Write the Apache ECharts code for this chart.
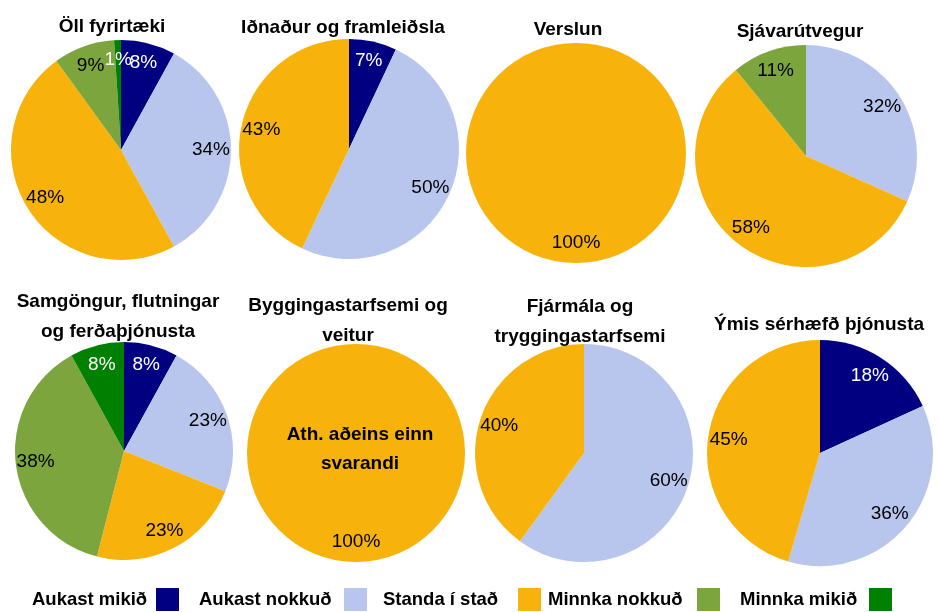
<!DOCTYPE html>
<html>
<head>
<meta charset="utf-8">
<script src="https://cdn.jsdelivr.net/npm/echarts@6/dist/echarts.min.js"></script>
<style>
  html, body { margin: 0; padding: 0; background: #ffffff; }
  #chart { width: 938px; height: 612px; }
</style>
</head>
<body>
<div id="chart"></div>
<script>
// Answer categories (legend order)
const categories = ['Aukast mikið', 'Aukast nokkuð', 'Standa í stað', 'Minnka nokkuð', 'Minnka mikið'];

// Sector titles
const sectorTitles = [
  'Öll fyrirtæki',
  'Iðnaður og framleiðsla',
  'Verslun',
  'Sjávarútvegur',
  'Samgöngur, flutningar\nog ferðaþjónusta',
  'Byggingastarfsemi og\nveitur',
  'Fjármála og\ntryggingastarfsemi',
  'Ýmis sérhæfð þjónusta'
];

// Share of answers (%) per sector, in category order
const allFirms     = [8, 34, 48, 9, 1];
const industry     = [7, 50, 43, 0, 0];
const retail       = [0, 0, 100, 0, 0];
const fisheries    = [0, 32, 58, 11, 0];
const transport    = [8, 23, 23, 38, 8];
const construction = [0, 0, 100, 0, 0];
const finance      = [0, 60, 40, 0, 0];
const services     = [18, 36, 45, 0, 0];

const sectorValues = [allFirms, industry, retail, fisheries, transport, construction, finance, services];

const noteText = 'Ath. aðeins einn\nsvarandi';

// Styling
const colors = ['#000080', '#b8c5ed', '#f7b30b', '#7ca53d', '#008000'];
const labelColors = ['#ffffff', '#000000', '#000000', '#000000', '#ffffff'];
const titleFont = 'Liberation Sans, Arial, sans-serif';

// Layout of each pie: centre, radius and title anchor
const layout = [
  { cx: 121, cy: 150, r: 110, tx: 112, ty: 12 },
  { cx: 349, cy: 149, r: 110, tx: 343, ty: 13 },
  { cx: 576, cy: 153, r: 110, tx: 568, ty: 15 },
  { cx: 806, cy: 156, r: 111, tx: 800, ty: 17 },
  { cx: 124, cy: 451, r: 109, tx: 118, ty: 287 },
  { cx: 356, cy: 453, r: 109, tx: 348, ty: 291 },
  { cx: 584, cy: 453, r: 109, tx: 580, ty: 292 },
  { cx: 820, cy: 453, r: 113, tx: 819, ty: 310 }
];

// Legend entries: where each text starts and where its colour key sits
const legendTextLeft = [32, 199, 383, 548, 740];
const legendKeyLeft  = [156, 344, 518, 697, 869];
const keySize = 23;

function sliceData(values, withLabel) {
  return categories
    .map((name, k) => ({ name, value: values[k], k }))
    .filter(d => d.value > 0)
    .map(d => {
      const item = { name: d.name, value: d.value };
      if (withLabel) {
        item.itemStyle = { color: 'rgba(0,0,0,0)' };
        item.label = { color: labelColors[d.k] };
      } else {
        item.itemStyle = { color: colors[d.k] };
      }
      return item;
    });
}

const series = [];
sectorValues.forEach((values, i) => {
  const L = layout[i];
  // filled pie
  series.push({
    type: 'pie',
    center: [L.cx, L.cy],
    radius: [0, L.r],
    startAngle: 90,
    clockwise: true,
    silent: true,
    label: { show: false },
    labelLine: { show: false },
    itemStyle: { borderWidth: 0 },
    emphasis: { disabled: true },
    data: sliceData(values, false)
  });
  // transparent ring carrying the percentage labels near the rim
  series.push({
    type: 'pie',
    center: [L.cx, L.cy],
    radius: [L.r * 0.58, L.r],
    startAngle: 90,
    clockwise: true,
    silent: true,
    legendHoverLink: false,
    minShowLabelAngle: 0,
    avoidLabelOverlap: false,
    labelLayout: { hideOverlap: false },
    label: {
      show: true,
      position: 'inside',
      formatter: '{c}%',
      fontFamily: titleFont,
      fontSize: 19,
      fontWeight: 'normal',
      overflow: 'none'
    },
    labelLine: { show: false },
    itemStyle: { borderWidth: 0 },
    emphasis: { disabled: true },
    data: sliceData(values, true)
  });
});

const titles = sectorTitles.map((text, i) => ({
  text,
  left: layout[i].tx,
  top: layout[i].ty,
  textAlign: 'center',
  padding: 0,
  textStyle: {
    fontFamily: titleFont,
    fontSize: 19,
    fontWeight: 'bold',
    color: '#000000',
    lineHeight: 30
  }
}));
titles.push({
  text: noteText,
  left: 360,
  top: 420,
  textAlign: 'center',
  padding: 0,
  textStyle: {
    fontFamily: titleFont,
    fontSize: 19,
    fontWeight: 'bold',
    color: '#000000',
    lineHeight: 29
  }
});

const legends = categories.map((name, k) => ({
  left: legendTextLeft[k],
  top: 588,
  padding: 0,
  align: 'right',
  orient: 'horizontal',
  icon: 'rect',
  itemWidth: keySize,
  itemHeight: keySize,
  selectedMode: false,
  formatter: n => '{t|' + n + '}',
  textStyle: {
    fontFamily: titleFont,
    fontSize: 18.5,
    fontWeight: 'bold',
    color: '#000000',
    rich: {
      t: {
        width: legendKeyLeft[k] - legendTextLeft[k] - 5,
        align: 'left',
        fontFamily: titleFont,
        fontSize: 18.5,
        fontWeight: 'bold',
        color: '#000000'
      }
    }
  },
  data: [{ name, itemStyle: { color: colors[k] } }]
}));

const chart = echarts.init(document.getElementById('chart'), null, { renderer: 'canvas' });
chart.setOption({
  animation: false,
  backgroundColor: '#ffffff',
  title: titles,
  legend: legends,
  series
});
</script>
</body>
</html>
